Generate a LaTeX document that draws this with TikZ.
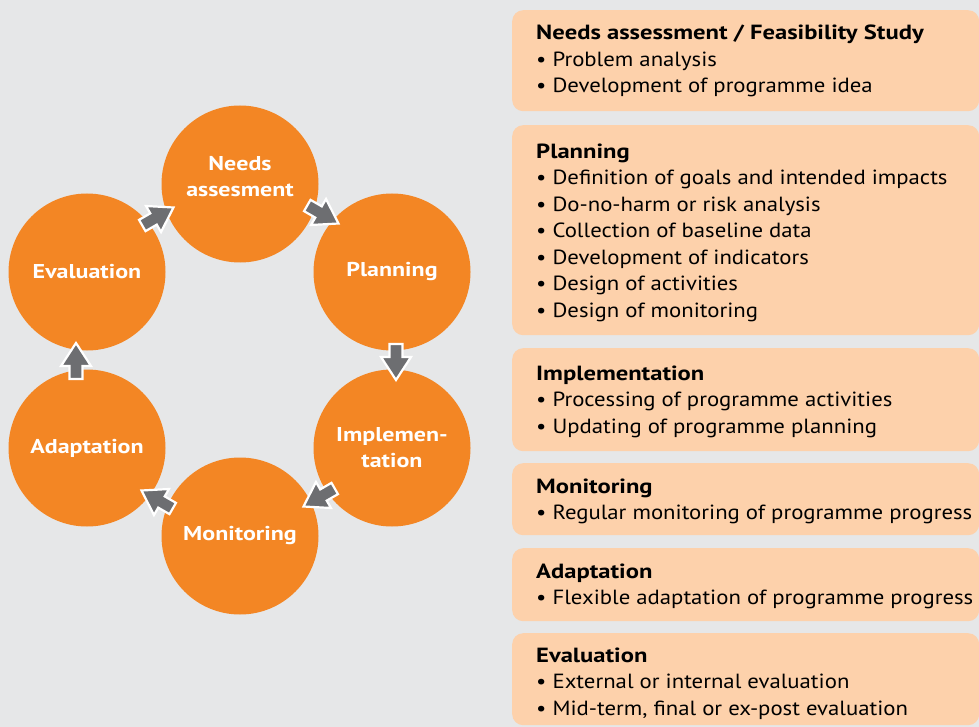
\documentclass[tikz,border=0pt]{standalone}
\usepackage{fontspec}
\setmainfont{PT Sans}[FakeStretch=1.11, BoldFeatures={FakeStretch=1.2}]
\usetikzlibrary{calc}
\definecolor{bg}{HTML}{E6E7E8}
\definecolor{org}{HTML}{F38624}
\definecolor{peach}{HTML}{FDD1AB}
\definecolor{arr}{HTML}{6D6E71}
\begin{document}
\begin{tikzpicture}[x=1pt,y=-1pt,
  stage/.style={circle, fill=org, minimum size=157pt, inner sep=0pt, text=white,
    font=\fontsize{20}{26}\selectfont\bfseries, align=center},
  infobox/.style={fill=peach, rounded corners=11pt, inner sep=0pt, minimum width=467pt, anchor=north west},
  infotext/.style={anchor=north west, inner sep=0pt, align=left, font=\fontsize{20.5}{26.5}\selectfont},
  blockarrow/.pic={\filldraw[fill=arr, draw=white, line width=2.2pt, line join=miter]
    (-17,-6.5) -- (-4,-6.5) -- (-4,-15) -- (19,0) -- (-4,15) -- (-4,6.5) -- (-17,6.5) -- cycle;}]
\fill[bg] (0,0) rectangle (979,727);
\useasboundingbox (0,0) rectangle (979,727);
\clip (0,0) rectangle (979,727);

% cycle
\node[stage] (need) at (240,184) {\raisebox{0pt}[0pt][0pt]{}\\[-37pt]Needs\\assesment};
\node[stage] (plan) at (392,272) {Planning};
\node[stage] (impl) at (392,448) {Implemen-\\tation};
\node[stage] (moni) at (240,536) {Monitoring};
\node[stage] (adap) at (87,448) {Adaptation};
\node[stage] (eval) at (87,272) {Evaluation};

\pic[rotate=30]   at (157,217) {blockarrow};
\pic[rotate=-30]  at (322,214) {blockarrow};
\pic[rotate=-90]  at (396,361) {blockarrow};
\pic[rotate=-150] at (320,497) {blockarrow};
\pic[rotate=150]  at (158,500) {blockarrow};
\pic[rotate=90]   at (76,362)  {blockarrow};

% info boxes
\node[infobox, minimum height=101pt] (b1) at (512,10) {};
\node[infobox, minimum height=210pt] (b2) at (512,125) {};
\node[infobox, minimum height=103pt] (b3) at (512,348) {};
\node[infobox, minimum height=72pt]  (b4) at (512,463) {};
\node[infobox, minimum height=73pt]  (b5) at (512,548) {};
\node[infobox, minimum height=92pt]  (b6) at (512,633) {};

\newcommand{\topstrut}{\rule{0pt}{20pt}}
\node[infotext] (t1) at (536,19.5) {\topstrut\textbf{Needs assessment / Feasibility Study}\\
  • Problem analysis\\
  • Development of programme idea};
\node[infotext] (t2) at (536,138) {\topstrut\textbf{Planning}\\
  • Definition of goals and intended impacts\\
  • Do-no-harm or risk analysis\\
  • Collection of baseline data\\
  • Development of indicators\\
  • Design of activities\\
  • Design of monitoring};
\node[infotext] (t3) at (536,360) {\topstrut\textbf{Implementation}\\
  • Processing of programme activities\\
  • Updating of programme planning};
\node[infotext] (t4) at (536,473) {\topstrut\textbf{Monitoring}\\
  • Regular monitoring of programme progress};
\node[infotext] (t5) at (536,558) {\topstrut\textbf{Adaptation}\\
  • Flexible adaptation of programme progress};
\node[infotext] (t6) at (536,642) {\topstrut\textbf{Evaluation}\\
  • External or internal evaluation\\
  • Mid-term, final or ex-post evaluation};
\end{tikzpicture}
\end{document}
